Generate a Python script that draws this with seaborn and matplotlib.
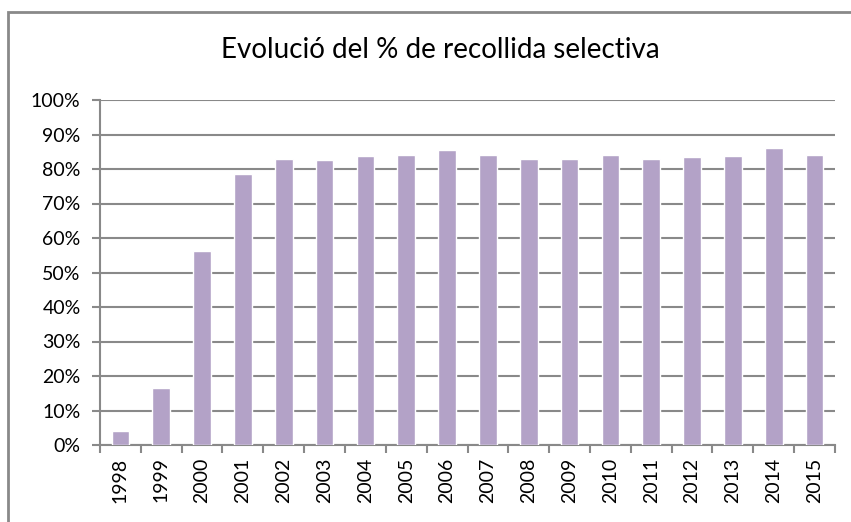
import matplotlib
matplotlib.use("Agg")
import matplotlib.pyplot as plt
import matplotlib.patches as mpatches
from matplotlib.ticker import FuncFormatter, MultipleLocator
import seaborn as sns
import pandas as pd

# data
years = ["1998", "1999", "2000", "2001", "2002", "2003", "2004", "2005", "2006",
         "2007", "2008", "2009", "2010", "2011", "2012", "2013", "2014", "2015"]
pct = [4.1, 16.5, 56.2, 78.5, 82.8, 82.7, 83.7, 84.0, 85.4,
       84.0, 82.8, 82.9, 84.1, 82.8, 83.4, 83.7, 86.2, 84.0]

df = pd.DataFrame({"year": years, "pct": pct})

sns.set_theme(style="white")
plt.rcParams["font.family"] = ["Lato", "DejaVu Sans"]

grey = "#898989"

fig = plt.figure(figsize=(8.51, 5.22), dpi=100)
ax = fig.add_axes([100 / 851, 1 - 445 / 522, 735 / 851, 345 / 522])

sns.barplot(data=df, x="year", y="pct", color="#B3A2C7", width=0.43,
            saturation=1, ax=ax, zorder=3)

ax.set_ylim(0, 100)
ax.set_xlim(-0.5, len(years) - 0.5)
ax.yaxis.set_major_locator(MultipleLocator(10))
ax.yaxis.set_major_formatter(FuncFormatter(lambda v, p: f"{v:.0f}%"))
ax.grid(axis="y", color=grey, lw=1.5, zorder=0)
ax.set_axisbelow(True)

for s in ["top", "right"]:
    ax.spines[s].set_visible(False)
for s in ["left", "bottom"]:
    ax.spines[s].set_color(grey)
    ax.spines[s].set_linewidth(1.5)

# x ticks between categories
ax.set_xticks(range(len(years)))
ax.set_xticklabels(years, rotation=90)
ax.set_xticks([i + 0.5 for i in range(-1, len(years))], minor=True)
ax.tick_params(axis="x", which="major", length=0, pad=9, labelsize=14, labelcolor="black")
ax.tick_params(axis="x", which="minor", length=6, width=1.5, color=grey, bottom=True)
ax.tick_params(axis="y", length=6, width=1.5, color=grey, left=True, labelsize=14,
               labelcolor="black", pad=8)
ax.set_xlabel("")
ax.set_ylabel("")

fig.text(440 / 851, 1 - 50 / 522, "Evolució del % de recollida selectiva",
         ha="center", va="center", fontsize=20, color="black")

# outer chart frame
fig.patches.append(mpatches.Rectangle((8 / 851, -0.1), 1.2, 1 - 12 / 522 + 0.1,
                                      transform=fig.transFigure, fill=False,
                                      edgecolor=grey, lw=2))

fig.savefig("out.png", dpi=100)
